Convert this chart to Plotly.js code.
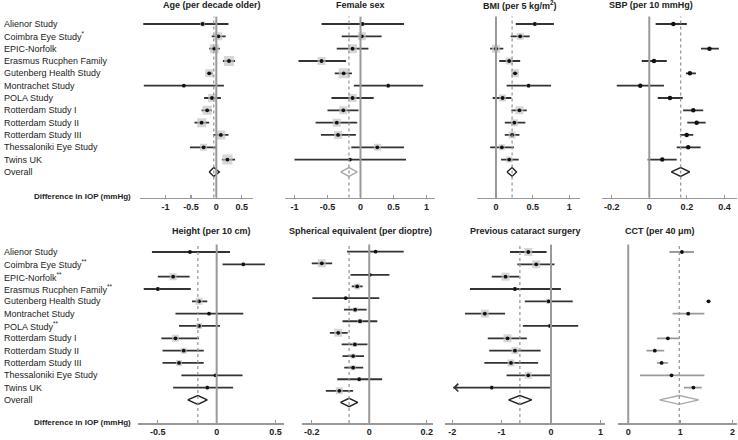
<!DOCTYPE html>
<html><head><meta charset="utf-8">
<script src="https://cdn.plot.ly/plotly-3.0.1.min.js"></script>
<style>html,body{margin:0;padding:0;background:#fff}#c{width:738px;height:440px}</style>
</head><body><div id="c"></div>
<script>
// ---------------- DATA ----------------
const studies = ["Alienor Study","Coimbra Eye Study","EPIC-Norfolk","Erasmus Rucphen Family","Gutenberg Health Study","Montrachet Study","POLA Study","Rotterdam Study I","Rotterdam Study II","Rotterdam Study III","Thessaloniki Eye Study","Twins UK","Overall"];
const topMarks    = ["","*","","","","","","","","","","",""];
const bottomMarks = ["","**","**","**","","","**","","","","","",""];

const titles = ["Age (per decade older)","Female sex","BMI (per 5 kg/m<sup>2</sup>)","SBP (per 10 mmHg)",
                "Height (per 10 cm)","Spherical equivalent (per dioptre)","Previous cataract surgery","CCT (per 40 μm)"];
const axisNote = "Difference in IOP (mmHg)";

const ageTicks = ["-1","-0.5","0","0.5"];
const femTicks = ["-1","-0.5","0","0.5","1"];
const bmiTicks = ["0","0.5","1"];
const sbpTicks = ["-0.2","0","0.2","0.4"];
const hgtTicks = ["-0.5","0","0.5"];
const seTicks  = ["-0.2","0","0.2"];
const catTicks = ["-2","-1","0","1"];
const cctTicks = ["0","1","2"];

// estimates, lower / upper CI, relative weight (box), overall [est, lo, hi]
const ageEst = [-0.27, 0.04, -0.04, 0.25, -0.14, -0.64, -0.085, -0.18, -0.29, 0.09, -0.25, 0.22];
const ageLo  = [-1.44, -0.09, -0.14, 0.13, -0.19, -1.43, -0.24, -0.29, -0.43, -0.06, -0.52, 0.11];
const ageHi  = [0.24, 0.185, 0.07, 0.37, -0.07, 0.15, 0.09, -0.085, -0.14, 0.24, 0.0, 0.37];
const ageW   = [0.5, 0.8, 0.9, 1.0, 0.8, 0, 0.8, 0.9, 0.9, 0.9, 0.7, 1.0];
const ageAll = [-0.05, -0.14, 0.06];

const femEst = [0.03, 0.02, -0.12, -0.59, -0.255, 0.42, -0.12, -0.26, -0.36, -0.34, 0.255, -0.16];
const femLo  = [-0.59, -0.285, -0.36, -0.94, -0.39, -0.1, -0.44, -0.5, -0.68, -0.6, -0.14, -1.0];
const femHi  = [0.66, 0.32, 0.12, -0.22, -0.13, 0.95, 0.2, -0.03, -0.05, -0.07, 0.66, 0.69];
const femW   = [0.4, 0.8, 0.9, 0.8, 1.0, 0.4, 0.8, 0.8, 0.8, 0.8, 0.7, 0.3];
const femAll = [-0.175, -0.30, -0.05];

const bmiEst = [0.53, 0.33, 0.0, 0.18, 0.26, 0.445, 0.09, 0.32, 0.25, 0.22, 0.08, 0.18];
const bmiLo  = [0.27, 0.2, -0.08, 0.045, 0.22, 0.145, -0.045, 0.21, 0.12, 0.12, -0.08, 0.07];
const bmiHi  = [0.79, 0.46, 0.1, 0.33, 0.30, 0.75, 0.21, 0.42, 0.40, 0.32, 0.245, 0.31];
const bmiW   = [0.4, 0.7, 0.8, 0.7, 0.8, 0.4, 0.7, 0.8, 0.7, 0.7, 0.6, 0.6];
const bmiAll = [0.22, 0.15, 0.28];

const sbpEst = [0.128, null, 0.32, 0.025, 0.216, -0.048, 0.11, 0.234, 0.252, 0.199, 0.207, 0.069];
const sbpLo  = [0.034, null, 0.275, -0.04, 0.195, -0.173, 0.045, 0.18, 0.202, 0.163, 0.146, -0.009];
const sbpHi  = [0.20, null, 0.37, 0.093, 0.248, 0.078, 0.178, 0.287, 0.30, 0.234, 0.273, 0.146];
const sbpW   = [0,0,0,0,0,0,0,0,0,0,0,0];
const sbpAll = [0.167, 0.117, 0.215];

const hgtEst = [-0.227, 0.226, -0.37, -0.50, -0.15, -0.065, -0.15, -0.35, -0.28, -0.32, -0.01, -0.08];
const hgtLo  = [-0.55, 0.05, -0.50, -0.62, -0.21, -0.35, -0.32, -0.47, -0.46, -0.46, -0.30, -0.37];
const hgtHi  = [0.113, 0.41, -0.23, -0.22, -0.08, 0.226, 0.028, -0.15, -0.11, -0.11, 0.22, 0.14];
const hgtW   = [0, 0.4, 0.7, 0.4, 0.7, 0, 0.6, 0.7, 0.6, 0.6, 0, 0.4];
const hgtAll = [-0.16, -0.246, -0.08];

const seEst = [0.022, -0.165, 0.002, -0.042, -0.082, -0.049, -0.032, -0.108, -0.05, -0.056, -0.056, -0.035, -0.104];
const seLo  = [-0.077, -0.2, -0.065, -0.061, -0.198, -0.088, -0.093, -0.137, -0.096, -0.093, -0.087, -0.111, -0.151];
const seHi  = [0.12, -0.129, 0.07, -0.023, 0.035, -0.009, 0.028, -0.075, -0.006, -0.018, -0.021, 0.045, -0.056];
const seW   = [0, 0.8, 0, 0.6, 0, 0.5, 0.5, 0.8, 0.5, 0.5, 0.5, 0.4, 0.7];
const seAll = [-0.07, -0.1, -0.04];

const catEst = [-0.46, -0.30, -0.92, -0.73, -0.05, -1.34, -0.02, -0.88, -0.73, -0.81, -0.46, -1.2];
const catLo  = [-0.83, -0.68, -1.2, -1.64, -0.53, -1.74, -0.57, -1.28, -1.25, -1.35, -0.9, -2.5];
const catHi  = [-0.09, 0.07, -0.64, 0.2, 0.44, -0.93, 0.55, -0.49, -0.21, -0.26, 0.0, 0.0];
const catW   = [0.8, 0.8, 0.8, 0.4, 0.5, 0.8, 0.4, 0.8, 0.7, 0.7, 0.7, 0.4];
const catAll = [-0.63, -0.86, -0.39];
const catClip = -1.98;   // lower end shown as arrow when CI runs off the scale

const cctEst = [1.03, null, null, null, 1.54, 1.15, null, 0.76, 0.51, 0.64, 0.83, 1.25];
const cctLo  = [0.79, null, null, null, 1.50, 0.85, null, 0.55, 0.35, 0.55, 0.225, 1.07];
const cctHi  = [1.26, null, null, null, 1.58, 1.46, null, 0.975, 0.69, 0.76, 1.46, 1.41];
const cctW   = [0,0,0,0,0,0,0,0,0,0,0,0];
const cctAll = [0.98, 0.6, 1.35];

// ---------------- LAYOUT GEOMETRY ----------------
const W = 738, H = 440;
const FONT = "Liberation Sans, Arial, sans-serif";
const topY = [16.6, 197.6], botY = [244.6, 423];
const rowsTop = [14.08, -0.6], rowsBot = [13.87, -0.6];
const panels = [
  {est:ageEst, lo:ageLo, hi:ageHi, w:ageW, all:ageAll, ticks:ageTicks, px:[140,253], rng:[-1.505,0.724], py:topY, yr:rowsTop, tx:212},
  {est:femEst, lo:femLo, hi:femHi, w:femW, all:femAll, ticks:femTicks, px:[285,435], rng:[-1.144,1.129], py:topY, yr:rowsTop, tx:360, light:true},
  {est:bmiEst, lo:bmiLo, hi:bmiHi, w:bmiW, all:bmiAll, ticks:bmiTicks, px:[476.7,580], rng:[-0.263,1.146], py:topY, yr:rowsTop, tx:520},
  {est:sbpEst, lo:sbpLo, hi:sbpHi, w:sbpW, all:sbpAll, ticks:sbpTicks, px:[601.7,736.7], rng:[-0.253,0.465], py:topY, yr:rowsTop, tx:651},
  {est:hgtEst, lo:hgtLo, hi:hgtHi, w:hgtW, all:hgtAll, ticks:hgtTicks, px:[138.3,284], rng:[-0.666,0.572], py:botY, yr:rowsBot, tx:211},
  {est:seEst, lo:seLo, hi:seHi, w:seW, all:seAll, ticks:seTicks, px:[301.7,433.3], rng:[-0.235,0.223], py:botY, yr:[14.77,-0.61], tx:360},
  {est:catEst, lo:catLo, hi:catHi, w:catW, all:catAll, ticks:catTicks, px:[445,605], rng:[-2.146,1.093], py:botY, yr:rowsBot, tx:525, clip:catClip},
  {est:cctEst, lo:cctLo, hi:cctHi, w:cctW, all:cctAll, ticks:cctTicks, px:[618.3,736.7], rng:[-0.19,2.08], py:botY, yr:rowsBot, tx:660, light:true, grayCI:true}
];

const traces = [], shapes = [], annotations = [];
const layout = {width:W, height:H, margin:{l:0,r:0,t:0,b:0}, paper_bgcolor:"#fff", plot_bgcolor:"rgba(0,0,0,0)",
  showlegend:false, font:{family:FONT, color:"#222"}, shapes, annotations};

panels.forEach((p, k) => {
  const n = k + 1, xa = "x" + n, ya = "y" + n;
  const sfx = n === 1 ? "" : n;
  const nRows = p.est.length;
  const rows = p.est.map((_, i) => i);
  const overallRow = nRows;
  layout["xaxis" + sfx] = {
    domain:[p.px[0]/W, p.px[1]/W], range:p.rng, anchor:ya, showgrid:false, zeroline:false,
    showline:true, linecolor:"#999", linewidth:1.5, ticks:"inside", ticklen:3, tickcolor:"#999", tickwidth:1.2,
    tickvals:p.ticks.map(Number), ticktext:p.ticks, ticklabelstandoff:0,
    tickfont:{family:FONT, size:9, color:"#222", weight:"bold"}, fixedrange:true
  };
  layout["yaxis" + sfx] = {
    domain:[1 - p.py[1]/H, 1 - p.py[0]/H], range:p.yr, anchor:xa, visible:false, fixedrange:true
  };
  shapes.push({type:"line", xref:xa, yref:ya + " domain", x0:0, x1:0, y0:0, y1:1, line:{color:"#9a9a9a", width:2}});
  shapes.push({type:"line", xref:xa, yref:ya + " domain", x0:p.all[0], x1:p.all[0], y0:0, y1:1, line:{color:"#9a9a9a", width:1.3, dash:"dot"}});

  const lx = [], ly = [];
  rows.forEach(i => {
    if (p.est[i] === null) return;
    let lo = p.lo[i];
    if (p.clip !== undefined && lo < p.clip) lo = p.clip;
    lx.push(lo, p.hi[i], null); ly.push(i, i, null);
  });
  traces.push({type:"scatter", mode:"lines", xaxis:xa, yaxis:ya, x:lx, y:ly, hoverinfo:"skip",
    line:{color:p.grayCI ? "#9a9a9a" : "#333", width:1.8}});
  const bx = [], by = [], bs = [];
  rows.forEach(i => { if (p.est[i] !== null && p.w[i] > 0) { bx.push(p.est[i]); by.push(i); bs.push(p.w[i] * 10); } });
  traces.push({type:"scatter", mode:"markers", xaxis:xa, yaxis:ya, x:bx, y:by, hoverinfo:"skip",
    marker:{symbol:"square", size:bs, color:"#c4c4c4", line:{width:0}}});
  traces.push({type:"scatter", mode:"markers", xaxis:xa, yaxis:ya,
    x:rows.filter(i => p.est[i] !== null).map(i => p.est[i]), y:rows.filter(i => p.est[i] !== null), hoverinfo:"skip",
    marker:{symbol:"circle", size:k === 3 ? 4.5 : 3.8, color:"#111", line:{width:0}}});
  const [e, a, b] = p.all, h = 0.36;
  traces.push({type:"scatter", mode:"lines", xaxis:xa, yaxis:ya, hoverinfo:"skip",
    x:[a, e, b, e, a], y:[overallRow, overallRow - h, overallRow, overallRow + h, overallRow],
    line:{color:p.light ? "#a8a8a8" : "#222", width:1.4}});
  if (p.clip !== undefined) {
    rows.forEach(i => {
      if (p.lo[i] !== null && p.lo[i] < p.clip) {
        annotations.push({xref:xa, yref:ya, axref:xa, ayref:ya, x:p.clip, y:i, ax:p.clip + 0.12, ay:i,
          showarrow:true, arrowhead:4, arrowsize:1, arrowwidth:1.5, arrowcolor:"#333", text:""});
      }
    });
  }
  annotations.push({xref:"paper", yref:"paper", x:p.tx / W, y:1 - (p.py === topY ? 5 : 231) / H,
    xanchor:"center", yanchor:"middle", showarrow:false, text:"<b>" + titles[k] + "</b>",
    font:{family:FONT, size:9, color:"#222"}});
});

[[topMarks, "y"], [bottomMarks, "y5"]].forEach(([marks, ya]) => {
  studies.forEach((s, i) => {
    annotations.push({xref:"paper", yref:ya, x:2 / W, y:i, xanchor:"left", yanchor:"middle", showarrow:false,
      text:s + (marks[i] ? "<sup>" + marks[i] + "</sup>" : ""), font:{family:FONT, size:9, color:"#222"}});
  });
});
[topY, botY].forEach(py => {
  annotations.push({xref:"paper", yref:"paper", x:133 / W, y:1 - (py[1] - 1) / H, xanchor:"right", yanchor:"middle",
    showarrow:false, text:"<b>" + axisNote + "</b>", font:{family:FONT, size:8, color:"#222"}});
});

Plotly.newPlot("c", traces, layout, {staticPlot:true, displayModeBar:false});
</script></body></html>
